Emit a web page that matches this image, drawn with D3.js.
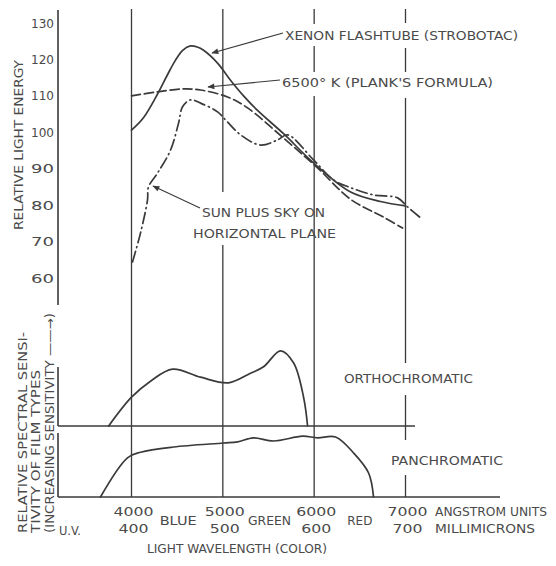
<!DOCTYPE html>
<html>
<head>
<meta charset="utf-8">
<script src="https://cdn.jsdelivr.net/npm/d3@7"></script>
<style>
  html, body { margin: 0; padding: 0; background: #fff; }
  svg { display: block; }
  text { font-family: "DejaVu Sans", "Liberation Sans", sans-serif; fill: #4a4a4a; font-size: 12px; }
</style>
</head>
<body>
<svg id="chart" width="556" height="566"></svg>
<script>
// ---------------- DATA ----------------
const energyTicks = [60, 70, 80, 90, 100, 110, 120, 130];
const wavelengthTicks = [4000, 5000, 6000, 7000];
const millimicronLabels = ["400", "500", "600", "700"];
const colorBands = [{ name: "BLUE", at: 4500 }, { name: "GREEN", at: 5500 }, { name: "RED", at: 6500 }];

const lambdaXenon = [4000, 4131, 4285, 4394, 4482, 4560, 4646, 4720, 4789, 4942, 5084, 5227, 5380, 5665, 5993, 6399, 6727, 7000];
const energyXenon = [100.6, 104.0, 110.5, 115.8, 119.8, 122.5, 123.7, 123.4, 122.5, 119.0, 114.3, 110.0, 106.0, 99.6, 91.6, 83.6, 81.0, 79.8];

const lambdaPlanck = [4000, 4285, 4570, 4756, 5051, 5271, 5665, 6037, 6399, 6760, 6968];
const energyPlanck = [110.0, 111.1, 111.9, 111.6, 109.7, 106.7, 98.4, 90.2, 81.6, 76.7, 73.7];

const lambdaSun = [4011, 4099, 4175, 4186, 4285, 4427, 4515, 4559, 4646, 4756, 4942, 5051, 5194, 5413, 5599, 5709, 5993, 6212, 6399, 6651, 6913, 7023, 7166];
const energySun = [64.4, 72.4, 81.4, 85.0, 88.8, 95.1, 102.5, 107.0, 108.9, 108.0, 105.6, 102.8, 99.3, 96.5, 97.9, 99.3, 92.4, 86.9, 84.8, 82.8, 82.0, 79.5, 76.5];

const lambdaOrtho = [3750, 4000, 4208, 4450, 4756, 5062, 5303, 5446, 5632, 5774, 5884, 5928];
const sensOrtho = [0, 3.6, 5.6, 7.1, 6.1, 5.4, 6.6, 7.4, 9.4, 7.9, 3.6, 0];

const lambdaPan = [3660, 3956, 4100, 4460, 5008, 5161, 5336, 5555, 5873, 6037, 6234, 6432, 6596, 6650];
const sensPan = [0, 4.9, 5.6, 6.25, 6.75, 6.9, 7.4, 7.0, 7.6, 7.4, 7.5, 5.5, 3.0, 0];

// ---------------- DRAWING ----------------
const svg = d3.select("#chart");
const ink = "#3a3a3a";

const x = d3.scaleLinear().domain([4000, 7000]).range([131.5, 405.5]);
const y = d3.scaleLinear().domain([60, 130]).range([278, 23]);
const yOrtho = d3.scaleLinear().domain([0, 10]).range([426, 346]);
const yPan = d3.scaleLinear().domain([0, 10]).range([497, 417]);

svg.append("defs").append("marker")
  .attr("id", "arr").attr("viewBox", "0 0 10 10").attr("refX", 9).attr("refY", 5)
  .attr("markerWidth", 9).attr("markerHeight", 7).attr("markerUnits", "userSpaceOnUse")
  .attr("orient", "auto")
  .append("path").attr("d", "M0,1 L10,5 L0,9 Z").attr("fill", ink);

const g = svg.append("g");

function vline(xp, y1, y2, w) {
  g.append("line").attr("x1", xp).attr("x2", xp).attr("y1", y1).attr("y2", y2)
    .attr("stroke", ink).attr("stroke-width", w || 1.3);
}
function hline(x1, x2, yp, w) {
  g.append("line").attr("x1", x1).attr("x2", x2).attr("y1", yp).attr("y2", yp)
    .attr("stroke", ink).attr("stroke-width", w || 1.6);
}

// left axes
vline(58, 10, 305, 1.6);
vline(58, 367, 426, 1.6);
vline(58, 433, 497, 1.6);

// baselines for film-type panels
hline(58, 415, yOrtho(0));
hline(58, 500, yPan(0));

// vertical wavelength lines with gaps behind labels
const gaps = {
  4000: [],
  5000: [[192, 245]],
  6000: [[24, 46], [72, 96]],
  7000: [[23, 48], [72, 98], [363, 395], [440, 475]]
};
wavelengthTicks.forEach(w => {
  let start = 9;
  const segs = [];
  gaps[w].forEach(gp => { segs.push([start, gp[0]]); start = gp[1]; });
  segs.push([start, yPan(0)]);
  segs.forEach(s => vline(x(w), s[0], s[1], 1.3));
});

// energy tick labels
g.selectAll(".ytick").data(energyTicks).enter().append("text")
  .attr("x", 54).attr("y", d => y(d) + 4.5).attr("text-anchor", "end")
  .attr("textLength", 23).attr("lengthAdjust", "spacingAndGlyphs")
  .text(d => d);

// curves
const line = (ys) => d3.line().x(d => x(d[0])).y(d => ys(d[1])).curve(d3.curveCatmullRom.alpha(0.5));

function curve(ls, vs, ys, dash) {
  const p = g.append("path").datum(ls.map((l, i) => [l, vs[i]]))
    .attr("d", line(ys)).attr("fill", "none").attr("stroke", ink)
    .attr("stroke-width", 1.7).attr("stroke-linejoin", "round").attr("stroke-linecap", "round");
  if (dash) p.attr("stroke-dasharray", dash);
}
curve(lambdaPlanck, energyPlanck, y, "9,4");
curve(lambdaSun, energySun, y, "11,4,1,4");
curve(lambdaXenon, energyXenon, y, null);
curve(lambdaOrtho, sensOrtho, yOrtho, null);
curve(lambdaPan, sensPan, yPan, null);

// annotation arrows
function arrow(x1, y1, x2, y2) {
  g.append("line").attr("x1", x1).attr("y1", y1).attr("x2", x2).attr("y2", y2)
    .attr("stroke", ink).attr("stroke-width", 1.1).attr("marker-end", "url(#arr)");
}
arrow(283, 33, 212, 53);
arrow(280, 80, 208, 87);
arrow(200, 208, 153, 186);

// labels
function label(txt, xp, yp, len, anchor, rot) {
  const t = g.append("text").attr("x", xp).attr("y", yp).text(txt)
    .attr("text-anchor", anchor || "start");
  if (len) t.attr("textLength", len).attr("lengthAdjust", "spacingAndGlyphs");
  if (rot) t.attr("transform", `rotate(-90 ${xp} ${yp})`);
  return t;
}
label("XENON FLASHTUBE (STROBOTAC)", 285, 39.5, 233);
label("6500° K (PLANK'S FORMULA)", 282, 86.5, 211);
label("SUN PLUS SKY ON", 202, 216.5, 123);
label("HORIZONTAL PLANE", 193, 237.5, 143);
label("ORTHOCHROMATIC", 344, 382.5, 129);
label("PANCHROMATIC", 391, 464.5, 112);

label("RELATIVE LIGHT ENERGY", 22.5, 145, 170, "middle", true);
label("RELATIVE SPECTRAL SENSI-", 26.5, 533, 201, "start", true);
label("TIVITY OF FILM TYPES", 39.5, 533, 163, "start", true);
label("(INCREASING SENSITIVITY ——→)", 53.5, 533, 220, "start", true);

label("U.V.", 70, 534.5, 22, "middle");
wavelengthTicks.forEach((w, i) => {
  label(String(w), x(w) + 2, 516, 40, "middle");
  label(millimicronLabels[i], x(w) + 2, 533, 30, "middle");
});
const bandLen = { BLUE: 37, GREEN: 43, RED: 25 };
colorBands.forEach(b => label(b.name, x(b.at) + (b.name === "RED" ? 0 : 1), 525, bandLen[b.name], "middle"));
label("ANGSTROM UNITS", 435, 516, 112);
label("MILLIMICRONS", 435, 533, 100);
label("LIGHT WAVELENGTH (COLOR)", 147, 553, 180);
</script>
</body>
</html>
